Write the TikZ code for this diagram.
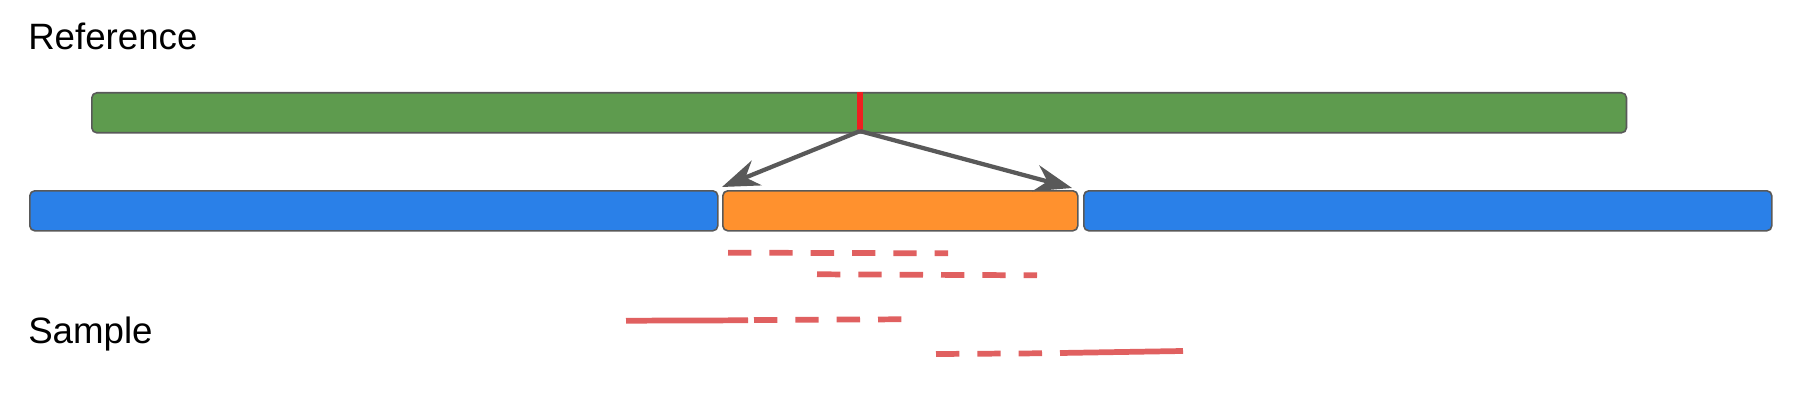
\documentclass[tikz,border=0pt]{standalone}
\usepackage{fontspec}
\setmainfont{Liberation Sans}
\usetikzlibrary{arrows.meta}

\definecolor{refgreen}{RGB}{94,155,78}
\definecolor{segblue}{RGB}{42,128,232}
\definecolor{segorange}{RGB}{255,145,46}
\definecolor{cutred}{RGB}{238,32,32}
\definecolor{readred}{RGB}{224,96,96}
\definecolor{edgegray}{RGB}{89,89,89}

\begin{document}
\begin{tikzpicture}[x=0.75pt,y=-0.75pt,
    bar/.style={draw=edgegray,line width=1.2pt,rounded corners=3.75pt,
      minimum height=30pt,inner sep=0pt,anchor=north west},
    heading/.style={inner sep=0pt,anchor=base west,font=\fontsize{27.5}{32}\selectfont},
    pointer/.style={draw=edgegray,line width=3.2pt,
      -{Stealth[length=28pt,width=20pt,inset=9pt]}},
    readpart/.style={readred,line width=4.3pt},
    gappart/.style={readred,line width=4.3pt,dash pattern=on 17.5pt off 13.5pt}]
    \useasboundingbox (0,0) rectangle (1811,410);
    \node[heading] (ref) at (28,50) {Reference};
    \node[heading] (smp) at (28,343) {Sample};
    \node[bar,fill=refgreen,minimum width=1151pt] (chrom) at (91,92) {};
    \node[fill=cutred,inner sep=0pt,minimum width=4.5pt,minimum height=29pt] (cut) at (860,111.5) {};
    \node[bar,fill=segblue,minimum width=516pt] (left) at (29,190) {};
    \node[bar,fill=segorange,minimum width=266.25pt] (mid) at (722,190) {};
    \node[bar,fill=segblue,minimum width=516pt] (right) at (1083,190) {};
    \coordinate (tipl) at (722,187);
    \coordinate (tipr) at (1072,188);
    \draw[pointer] (cut.south) -- (tipl);
    \draw[pointer] (cut.south) -- (tipr);
    % reads
    \draw[gappart] (728,252.7) -- (948,253.3);
    \draw[gappart] (817,274.3) -- (1037,275.3);
    \draw[readpart] (626,320.7) -- (748,320.3);
    \draw[gappart] (754,320) -- (902,319.3);
    \draw[gappart] (936,354) -- (1042,353.3);
    \draw[readpart] (1060,353) -- (1183,351);
  \end{tikzpicture}
\end{document}
